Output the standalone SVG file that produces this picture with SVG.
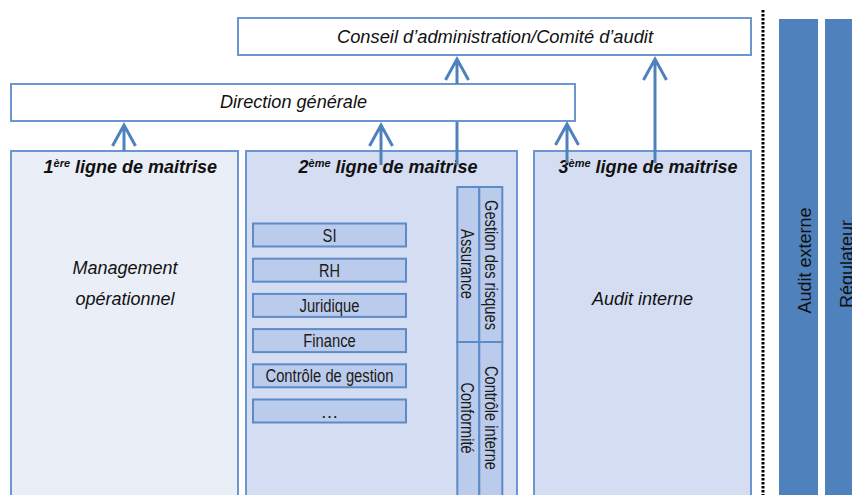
<svg xmlns="http://www.w3.org/2000/svg" width="852" height="495" viewBox="0 0 852 495">
<style>
.bx{stroke:#6c96cf;stroke-width:2}
.ib{fill:#bacbeb;stroke:#5d8bc9;stroke-width:2}
.t{font-family:"Liberation Sans",Arial,sans-serif;fill:#111}
.it{font-style:italic;font-size:18px}
.bi{font-style:italic;font-weight:bold;font-size:18px}
.n{font-family:"Liberation Sans Narrow","Arial Narrow","Liberation Sans",Arial,sans-serif;font-size:18px;fill:#1a1a1a}
.sup{font-size:11px}
.ar{fill:none;stroke:#4f81bd;stroke-width:3}
.bar{fill:#4f81bd}
</style>
<rect width="852" height="495" fill="#fff"/>
<g id="conseil">
<rect class="bx" x="238" y="18" width="513" height="37" fill="#fff"/>
<text class="t it" x="495" y="43" text-anchor="middle" textLength="316" lengthAdjust="spacingAndGlyphs">Conseil d’administration/Comité d’audit</text>
</g>
<g id="direction">
<rect class="bx" x="11" y="84" width="564" height="37" fill="#fff"/>
<text class="t it" x="293.5" y="108" text-anchor="middle" textLength="147" lengthAdjust="spacingAndGlyphs">Direction générale</text>
</g>
<g id="ligne1">
<rect class="bx" x="11" y="151" width="227" height="350" fill="#eaeef7"/>
<text class="t bi" x="43.5" y="173">1<tspan class="sup" dy="-6">ère</tspan><tspan dy="6"> ligne de maitrise</tspan></text>
<text class="t it" x="125" y="274" text-anchor="middle">Management</text>
<text class="t it" x="125" y="305" text-anchor="middle">opérationnel</text>
</g>
<g id="ligne2">
<rect class="bx" x="246" y="151" width="271" height="350" fill="#d4ddf1"/>
<text class="t bi" x="298.5" y="173">2<tspan class="sup" dy="-6">ème</tspan><tspan dy="6"> ligne de maitrise</tspan></text>
<g id="si"><rect class="ib" x="253" y="223.5" width="153" height="23"/><text class="n" x="329.5" y="241.5" text-anchor="middle" textLength="14" lengthAdjust="spacingAndGlyphs">SI</text></g>
<g id="rh"><rect class="ib" x="253" y="258.7" width="153" height="23"/><text class="n" x="329.5" y="276.7" text-anchor="middle" textLength="21" lengthAdjust="spacingAndGlyphs">RH</text></g>
<g id="juridique"><rect class="ib" x="253" y="293.9" width="153" height="23"/><text class="n" x="329.5" y="311.9" text-anchor="middle" textLength="60" lengthAdjust="spacingAndGlyphs">Juridique</text></g>
<g id="finance"><rect class="ib" x="253" y="329.1" width="153" height="23"/><text class="n" x="329.5" y="347.1" text-anchor="middle" textLength="52.5" lengthAdjust="spacingAndGlyphs">Finance</text></g>
<g id="controle-gestion"><rect class="ib" x="253" y="364.3" width="153" height="23"/><text class="n" x="329.5" y="382.3" text-anchor="middle" textLength="128" lengthAdjust="spacingAndGlyphs">Contrôle de gestion</text></g>
<g id="autres"><rect class="ib" x="253" y="399.5" width="153" height="23"/><text class="n" x="329.5" y="417.5" text-anchor="middle" fill="#555">…</text></g>
<g id="assurance"><rect class="ib" x="457.3" y="187" width="22" height="155"/><text class="n" transform="translate(461 264) rotate(90)" text-anchor="middle" textLength="70" lengthAdjust="spacingAndGlyphs">Assurance</text></g>
<g id="gestion-risques"><rect class="ib" x="479.3" y="187" width="23" height="155"/><text class="n" transform="translate(484.5 265) rotate(90)" text-anchor="middle" textLength="130" lengthAdjust="spacingAndGlyphs">Gestion des risques</text></g>
<g id="conformite"><rect class="ib" x="457.3" y="342" width="22" height="160"/><text class="n" transform="translate(461 418) rotate(90)" text-anchor="middle" textLength="71" lengthAdjust="spacingAndGlyphs">Conformité</text></g>
<g id="controle-interne"><rect class="ib" x="479.3" y="342" width="23" height="160"/><text class="n" transform="translate(484.5 418) rotate(90)" text-anchor="middle" textLength="104" lengthAdjust="spacingAndGlyphs">Contrôle interne</text></g>
</g>
<g id="ligne3">
<rect class="bx" x="534" y="151" width="217" height="350" fill="#d4ddf1"/>
<text class="t bi" x="558.5" y="173">3<tspan class="sup" dy="-6">ème</tspan><tspan dy="6"> ligne de maitrise</tspan></text>
<text class="t it" x="642.5" y="305" text-anchor="middle">Audit interne</text>
</g>
<g id="audit-externe">
<rect class="bar" x="779" y="19" width="39" height="480"/>
<text class="t" font-size="18" transform="translate(811 260.5) rotate(-90)" text-anchor="middle">Audit externe</text>
</g>
<g id="regulateur">
<rect class="bar" x="825" y="19" width="40" height="480"/>
<text class="t" font-size="18" transform="translate(853 264) rotate(-90)" text-anchor="middle">Régulateur</text>
</g>
<line x1="763" y1="10" x2="763" y2="495" stroke="#000" stroke-width="3" stroke-dasharray="2.5 1.5"/>
<g id="connectors">
<path class="ar" d="M124 151V125M112.5 146L124 125L135.5 146"/>
<path class="ar" d="M381 165V125M369.5 146L381 125L392.5 146"/>
<path class="ar" d="M457 165V122M457 84V59M445.5 80L457 59L468.5 80"/>
<path class="ar" d="M567 163V124M555.5 145L567 124L578.5 145"/>
<path class="ar" d="M655 163V59M643.5 80L655 59L666.5 80"/>
</g>
</svg>
